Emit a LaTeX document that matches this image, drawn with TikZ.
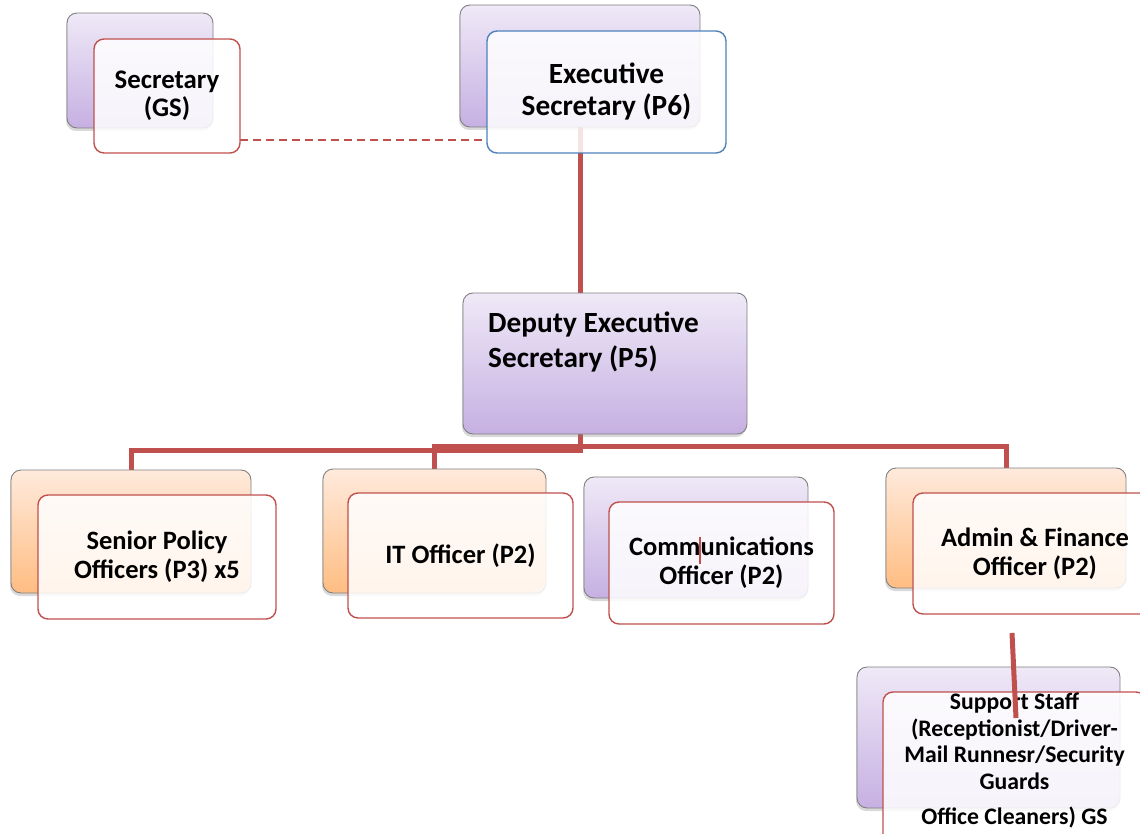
\documentclass[tikz,border=0pt]{standalone}
\usepackage{fontspec}
\setmainfont{Carlito}
\usetikzlibrary{shadows}
\definecolor{orgred}{HTML}{C0504D}
\definecolor{orgblue}{HTML}{4F81BD}
\definecolor{lilactop}{HTML}{EFE9F7}
\definecolor{lilacbot}{HTML}{C6B0E2}
\definecolor{peachtop}{HTML}{FFEADC}
\definecolor{peachbot}{HTML}{FFBD82}
\tikzset{
	backbox/.style={draw=gray, line width=0.9pt, rounded corners=10pt, inner sep=0pt,
		drop shadow={shadow xshift=-1pt, shadow yshift=-3pt, opacity=0.3}},
	lilac/.style={backbox, top color=lilactop, bottom color=lilacbot},
	peach/.style={backbox, top color=peachtop, bottom color=peachbot},
	frontbox/.style={draw=orgred, line width=1.4pt, rounded corners=10pt, inner sep=0pt,
		fill=white, fill opacity=0.85, text opacity=1, align=center},
	orgline/.style={orgred, line width=5pt},
	lowtext/.style={font=\fontsize{26.5}{29}\selectfont\bfseries},
}
\begin{document}
\begin{tikzpicture}[x=1pt,y=-1pt]
			\useasboundingbox (0,0) rectangle (1140,834);
			\clip (0,0) rectangle (1140,834);
			\node[lilac, minimum width=146pt, minimum height=115pt] (sb) at (140,70.5) {};
			\node[lilac, minimum width=240pt, minimum height=122pt] (eb) at (580,66) {};
			\draw[orgline] (eb.south) -- (eb.south |- 0,293);
			\draw[orgred, line width=1.4pt, dashed, dash pattern=on 8pt off 5pt] (240,140) -- (487,140);
			\node[frontbox, minimum width=146pt, minimum height=114pt, font=\fontsize{26.8}{28}\selectfont\bfseries] (sf) at (167,96) {Secretary\\(GS)};
			\node[frontbox, draw=orgblue, minimum width=239pt, minimum height=122pt, font=\fontsize{29.3}{32}\selectfont\bfseries] (ef) at (606.5,92) {Executive\\Secretary (P6)};
			\coordinate (bus) at (580,434);
			\draw[orgline] (bus) -- ++(0,16) -| (131,470);
			\draw[orgline] (bus) -- ++(0,12) -| (434.5,469);
			\draw[orgline] (bus) -- ++(0,12) -| (1006,468);
			\node[lilac, minimum width=284pt, minimum height=141pt] (dep) at (605,363.5) {};
			\node[anchor=west, align=left, inner sep=0pt, font=\fontsize{29.3}{35}\selectfont\bfseries] (deptext) at (488,342.5) {Deputy Executive\\Secretary (P5)};
			\node[peach, minimum width=240pt, minimum height=123pt] (spb) at (131,531.5) {};
			\node[frontbox, lowtext, minimum width=238pt, minimum height=124pt] (spf) at (157,557) {Senior Policy\\Officers (P3) x5};
			\node[peach, minimum width=223pt, minimum height=124pt] (itb) at (434.5,531) {};
			\node[frontbox, lowtext, minimum width=225pt, minimum height=125pt] (itf) at (460.5,555.5) {IT Officer (P2)};
			\node[lilac, minimum width=224pt, minimum height=121pt] (cb) at (696,537.5) {};
			\node[frontbox, lowtext, minimum width=225pt, minimum height=122pt] (cf) at (721.5,563) {Communications\\Officer (P2)};
			\draw[orgline, line width=2.5pt] (700,537) -- (700,564);
			\node[peach, minimum width=240pt, minimum height=120pt] (ab) at (1006,528) {};
			\node[frontbox, lowtext, minimum width=244pt, minimum height=121pt] (af) at (1035,553.5) {Admin \& Finance\\Officer (P2)};
			\node[lilac, minimum width=263pt, minimum height=141pt] (sub) at (988.5,737.5) {};
			\node[frontbox, minimum width=263pt, minimum height=158pt] (suf) at (1014.5,771) {};
			\node[anchor=north, align=center, inner sep=0pt, font=\fontsize{23.7}{26.5}\selectfont\bfseries] (sutext) at (1014.5,693) {Support Staff\\(Receptionist/Driver-\\Mail Runnesr/Security\\Guards\\[9pt]Office Cleaners) GS};
			\coordinate (adfoot) at (1012,633);
			\draw[orgline] (adfoot) -- (1016,718);
			\end{tikzpicture}
\end{document}
